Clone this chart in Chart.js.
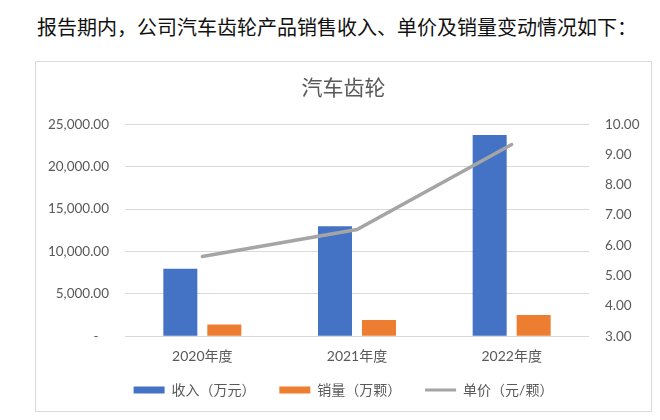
<!DOCTYPE html>
<html>
<head>
<meta charset="utf-8">
<script src="https://cdn.jsdelivr.net/npm/chart.js@4"></script>
<style>
  html, body { margin: 0; padding: 0; background: #fff; }
  body { width: 660px; height: 420px; position: relative; overflow: hidden; }
  .lead { position: absolute; left: 37px; top: 17px; font-size: 20px; line-height: 20px; font-family: 'Noto Sans CJK SC', sans-serif; color: #111; white-space: nowrap; }
  .box { position: absolute; left: 35px; top: 61px; width: 617px; height: 351px; box-sizing: border-box; border: 1px solid #d9d9d9; }
  .wrap { position: relative; width: 615px; height: 349px; }
</style>
</head>
<body>
<div class="lead">报告期内，公司汽车齿轮产品销售收入、单价及销量变动情况如下：</div>
<div class="box"><div class="wrap"><canvas id="gear-chart"></canvas></div></div>
<script>
(function () {
  'use strict';

  var categories = ['2020年度', '2021年度', '2022年度'];
  var revenue = [7950, 12980, 23730];   // 收入（万元）
  var volume = [1390, 1900, 2500];      // 销量（万颗）
  var unitPrice = [5.63, 6.52, 9.33];   // 单价（元/颗）
  var leftTicks = ['-   ', '5,000.00', '10,000.00', '15,000.00', '20,000.00', '25,000.00'];
  var rightTicks = ['3.00', '4.00', '5.00', '6.00', '7.00', '8.00', '9.00', '10.00'];

  var BLUE = '#4472c4';
  var ORANGE = '#ed7d31';
  var GREY = '#a5a5a5';
  var TEXT = '#595959';
  var GRID = '#d9d9d9';
  var FONT = "Lato, 'Noto Sans CJK SC', sans-serif";

  // legend: bars as flat rects, price as a short line; keep dataset order
  function legendItems(chart) {
    var items = Chart.defaults.plugins.legend.labels.generateLabels(chart);
    items.sort(function (a, b) {
      return a.datasetIndex - b.datasetIndex;
    });
    items.forEach(function (it, i) {
      var ds = chart.data.datasets[it.datasetIndex];
      if (ds.type === 'line') {
        it.pointStyle = 'line';
        it.strokeStyle = GREY;
        it.lineWidth = 3;
      } else {
        it.pointStyle = 'rect';
        it.lineWidth = 0;
      }
      // wider gap between items without growing the legend's height
      if (i < items.length - 1) it.text = it.text + '\u3000   ';
    });
    return items;
  }

  new Chart(document.getElementById('gear-chart'), {
    type: 'bar',
    data: {
      labels: categories,
      datasets: [
        {
          label: '收入（万元）',
          data: revenue,
          backgroundColor: BLUE,
          yAxisID: 'y',
          order: 1,
          categoryPercentage: 0.569,
          barPercentage: 0.773,
        },
        {
          label: '销量（万颗）',
          data: volume,
          backgroundColor: ORANGE,
          yAxisID: 'y',
          order: 1,
          categoryPercentage: 0.569,
          barPercentage: 0.773,
        },
        {
          type: 'line',
          label: '单价（元/颗）',
          data: unitPrice,
          borderColor: GREY,
          backgroundColor: GREY,
          borderWidth: 3.5,
          borderCapStyle: 'round',
          pointRadius: 0,
          tension: 0,
          yAxisID: 'y1',
          order: 0,
        },
      ],
    },
    options: {
      responsive: true,
      maintainAspectRatio: false,
      animation: false,
      layout: { padding: { left: 0, right: 0, top: 0, bottom: 4 } },
      scales: {
        x: {
          grid: { display: false, drawTicks: false },
          border: { display: false },
          ticks: { color: TEXT, font: { family: FONT, size: 14 }, padding: 12 },
        },
        y: {
          position: 'left',
          min: 0,
          max: 25000,
          grid: { color: GRID, lineWidth: 1, drawTicks: false },
          border: { display: false },
          ticks: {
            stepSize: 5000,
            color: TEXT,
            padding: 16,
            font: { family: FONT, size: 13.5 },
            callback: function (v, i) {
              return leftTicks[i];
            },
          },
          afterFit: function (s) {
            s.width = 89;
          },
        },
        y1: {
          position: 'right',
          min: 3,
          max: 10,
          grid: { display: false, drawTicks: false },
          border: { display: false },
          ticks: {
            stepSize: 1,
            color: TEXT,
            padding: 16,
            font: { family: FONT, size: 13.5 },
            callback: function (v, i) {
              return rightTicks[i];
            },
          },
          afterFit: function (s) {
            s.width = 62;
          },
        },
      },
      plugins: {
        title: {
          display: true,
          text: '汽车齿轮',
          color: TEXT,
          font: { family: FONT, size: 21, weight: 'normal' },
          padding: { top: 14, bottom: 23 },
        },
        legend: {
          position: 'bottom',
          labels: {
            color: TEXT,
            font: { family: FONT, size: 14 },
            usePointStyle: true,
            pointStyleWidth: 31,
            boxHeight: 7,
            padding: 6,
            generateLabels: legendItems,
          },
        },
        tooltip: { enabled: false },
      },
    },
  });
})();
</script>
</body>
</html>
